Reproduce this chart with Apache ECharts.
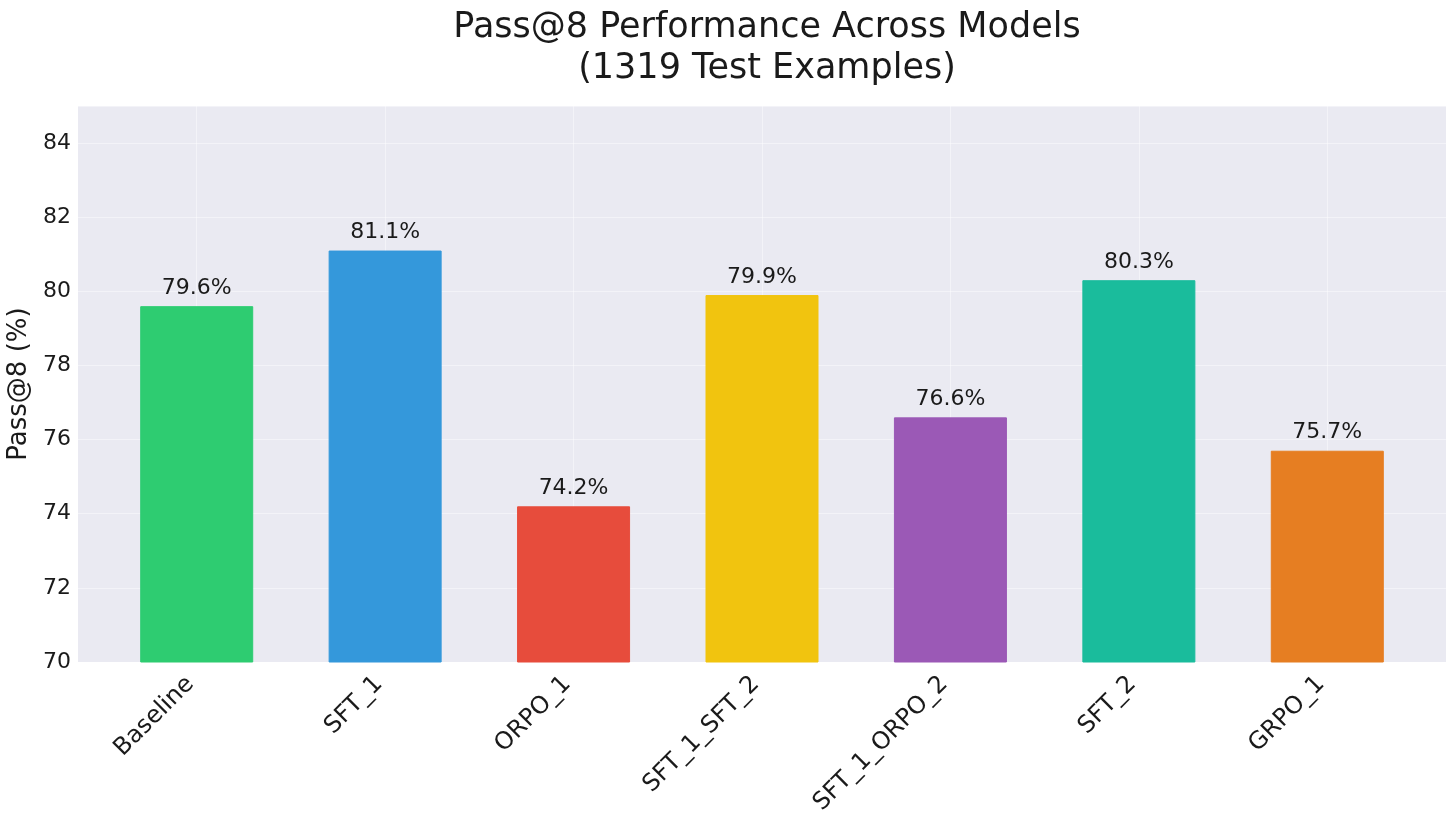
<!DOCTYPE html>
<html>
<head>
<meta charset="utf-8">
<script src="https://cdn.jsdelivr.net/npm/echarts@6/dist/echarts.min.js"></script>
<style>
html,body{margin:0;padding:0;background:#fff;}
#chart{width:1456px;height:819px;}
</style>
</head>
<body>
<div id="chart"></div>
<script>
const categories = ['Baseline', 'SFT_1', 'ORPO_1', 'SFT_1_SFT_2', 'SFT_1_ORPO_2', 'SFT_2', 'GRPO_1'];
const values = [79.6, 81.1, 74.2, 79.9, 76.6, 80.3, 75.7];
const colors = ['#2ecc71', '#3498db', '#e74c3c', '#f1c40f', '#9b59b6', '#1abc9c', '#e67e22'];
const yTicks = [70, 72, 74, 76, 78, 80, 82, 84];

const font = 'DejaVu Sans';
const idx = categories.map((c, i) => i);

const chart = echarts.init(document.getElementById('chart'), null, {renderer: 'canvas'});
chart.setOption({
  animation: false,
  textStyle: {fontFamily: font},
  title: {
    text: 'Pass@8 Performance Across Models\n(1319 Test Examples)',
    left: 762,
    textAlign: 'center',
    top: 2,
    textStyle: {fontFamily: font, fontSize: 35, fontWeight: 'normal', color: '#1a1a1a', lineHeight: 41}
  },
  grid: {
    left: 78, right: 10, top: 106, bottom: 157,
    outerBoundsMode: 'none',
    containLabel: false,
    show: true, backgroundColor: '#eaeaf2', borderWidth: 0
  },
  xAxis: {
    type: 'value',
    min: -0.63,
    max: 6.63,
    axisLine: {show: false},
    axisTick: {show: false, customValues: idx},
    axisLabel: {
      customValues: idx,
      rotate: 45,
      margin: 12,
      padding: [0, 9, 0, 0],
      fontFamily: font,
      fontSize: 24,
      color: '#1a1a1a',
      formatter: v => categories[Math.round(v)] || ''
    },
    splitLine: {show: true, lineStyle: {color: 'rgba(255,255,255,0.45)', width: 1}}
  },
  yAxis: {
    type: 'value',
    min: 70,
    max: 85,
    interval: 2,
    name: 'Pass@8 (%)',
    nameLocation: 'middle',
    nameGap: 42,
    nameTextStyle: {fontFamily: font, fontSize: 26, color: '#1a1a1a'},
    axisLine: {show: false},
    axisTick: {show: false},
    axisLabel: {fontFamily: font, fontSize: 22, color: '#1a1a1a', margin: 7, showMaxLabel: false},
    splitLine: {show: true, lineStyle: {color: 'rgba(255,255,255,0.45)', width: 1}}
  },
  series: [{
    type: 'bar',
    barWidth: 113,
    data: values.map((v, i) => ({
      value: [i, v],
      itemStyle: {color: colors[i], borderColor: colors[i], borderWidth: 1}
    })),
    label: {
      show: true,
      position: 'top',
      distance: 7,
      fontFamily: font,
      fontSize: 22,
      color: '#1a1a1a',
      formatter: p => p.value[1].toFixed(1) + '%'
    }
  }]
});
</script>
</body>
</html>
